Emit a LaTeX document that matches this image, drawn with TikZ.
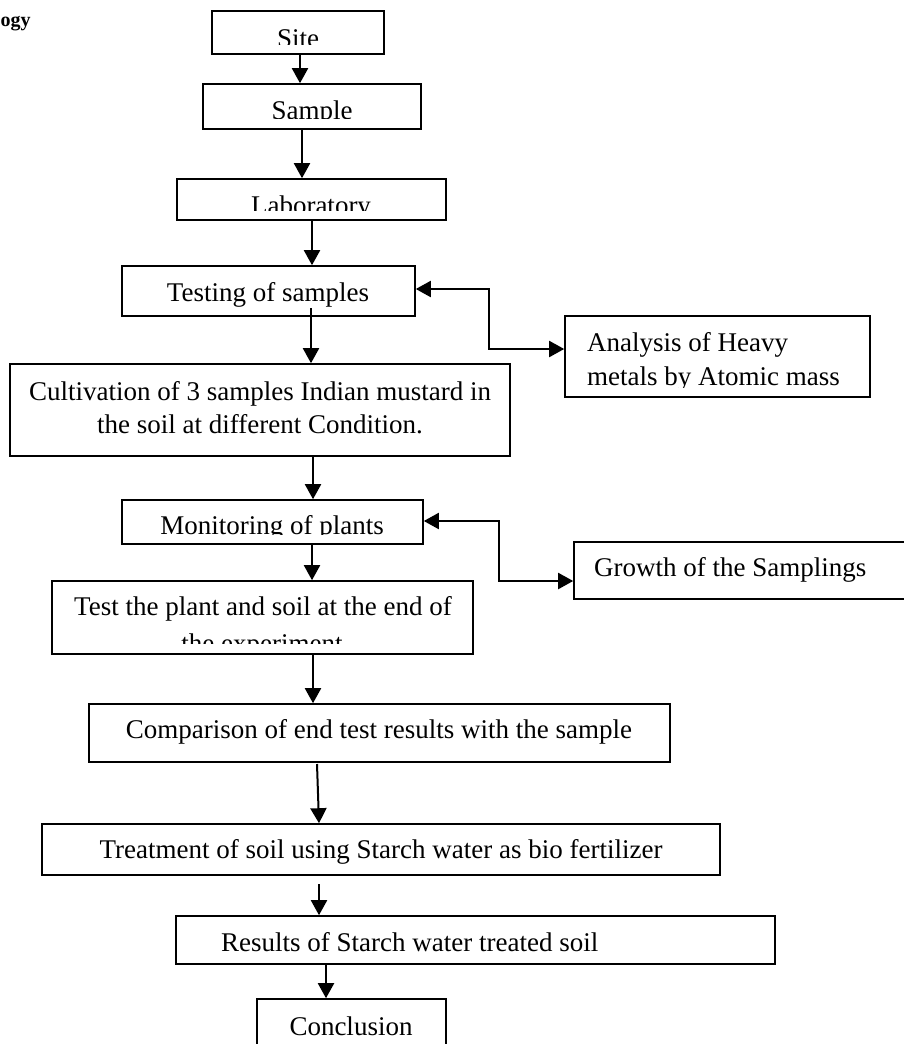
\documentclass[tikz,border=0pt]{standalone}
\usepackage{fontspec}
\setmainfont{Liberation Serif}
\usetikzlibrary{arrows.meta,fit}
\begin{document}
\begin{tikzpicture}[x=1pt,y=-1pt,
  box/.style={draw, line width=1.6pt, inner sep=0pt},
  lbl/.style={anchor=base, inner sep=0pt, font=\fontsize{27}{31}\selectfont},
  lbll/.style={anchor=base west, inner sep=0pt, font=\fontsize{27}{31}\selectfont},
  arr/.style={line width=2pt, -{Triangle[length=15pt,width=16pt]}},
  darr/.style={line width=2pt, {Triangle[length=15pt,width=16pt]}-{Triangle[length=15pt,width=16pt]}}]
\useasboundingbox (0,0) rectangle (904,1044);

\node[anchor=base west, inner sep=0pt, font=\bfseries\fontsize{20}{24}\selectfont] (ogy) at (0.5,27) {ogy};

% boxes
\node[box, fit={(212,11)(384,54)}] (site) {};
\node[box, fit={(203,84)(421,129)}] (sample) {};
\node[box, fit={(177,179)(446,220)}] (lab) {};
\node[box, fit={(122,266)(415,316)}] (testing) {};
\node[box, fit={(10,364)(510,456)}] (cult) {};
\node[box, fit={(565,316)(870,397)}] (analysis) {};
\node[box, fit={(122,500)(423,544)}] (monitor) {};
\node[box, fit={(574,542)(906,599)}] (growth) {};
\node[box, fit={(52,581)(473,654)}] (test) {};
\node[box, fit={(89,704)(670,762)}] (compare) {};
\node[box, fit={(42,824)(720,875)}] (treat) {};
\node[box, fit={(176,916)(775,964)}] (results) {};
\node[box, fit={(257,999)(446,1052)}] (concl) {};

% texts
\begin{scope}\clip (213,12) rectangle (383,44); \node[lbl] (tsite) at (298,47) {Site}; \end{scope}
\begin{scope}\clip (204,85) rectangle (420,118.5); \node[lbl] (tsample) at (312,119) {Sample}; \end{scope}
\begin{scope}\clip (178,180) rectangle (445,210); \node[lbl] (tlab) at (311,214) {Laboratory}; \end{scope}
\node[lbl] (ttesting) at (268,301) {Testing of samples};
\node[lbl] (tcult1) at (260,400) {Cultivation of 3 samples Indian mustard in};
\node[lbl] (tcult2) at (260,433) {the soil at different Condition.};
\node[lbll] (tana1) at (587,351) {Analysis of Heavy};
\begin{scope}\clip (566,360) rectangle (869,387); \node[lbll] (tana2) at (587,385) {metals by Atomic mass}; \end{scope}
\begin{scope}\clip (123,501) rectangle (422,534); \node[lbl] (tmon) at (272,534) {Monitoring of plants}; \end{scope}
\node[lbll] (tgrowth) at (594,576) {Growth of the Samplings};
\node[lbl] (ttest1) at (263,615) {Test the plant and soil at the end of};
\begin{scope}\clip (53,622) rectangle (472,643); \node[lbl] (ttest2) at (262,652) {the experiment}; \end{scope}
\node[lbl] (tcompare) at (379,738) {Comparison of end test results with the sample};
\node[lbl] (ttreat) at (381,858) {Treatment of soil using Starch water as bio fertilizer};
\node[lbll] (tresults) at (221,951) {Results of Starch water treated soil};
\node[lbl] (tconcl) at (351,1035) {Conclusion};

% free ends
\coordinate (c1) at (311,308);
\coordinate (c2) at (317,764);
\coordinate (c3) at (319,884);

% connectors
\draw[arr] (site.south -| 300,0) -- (sample.north -| 300,0);
\draw[arr] (sample.south -| 302,0) -- (lab.north -| 302,0);
\draw[arr] (lab.south -| 312,0) -- (testing.north -| 312,0);
\draw[arr] (c1) -- (cult.north -| c1);
\draw[darr] (testing.east |- 0,289) -- (489,289) -- (489,349) -- (analysis.west |- 0,349);
\draw[arr] (cult.south -| 313,0) -- (monitor.north -| 313,0);
\draw[darr] (monitor.east |- 0,521) -- (499,521) -- (499,581) -- (growth.west |- 0,581);
\draw[arr] (monitor.south -| 312,0) -- (test.north -| 312,0);
\draw[arr] (test.south -| 313,0) -- (compare.north -| 313,0);
\draw[arr] (c2) -- (treat.north -| 319,0);
\draw[arr] (c3) -- (results.north -| c3);
\draw[arr] (results.south -| 326,0) -- (concl.north -| 326,0);
\end{tikzpicture}
\end{document}
